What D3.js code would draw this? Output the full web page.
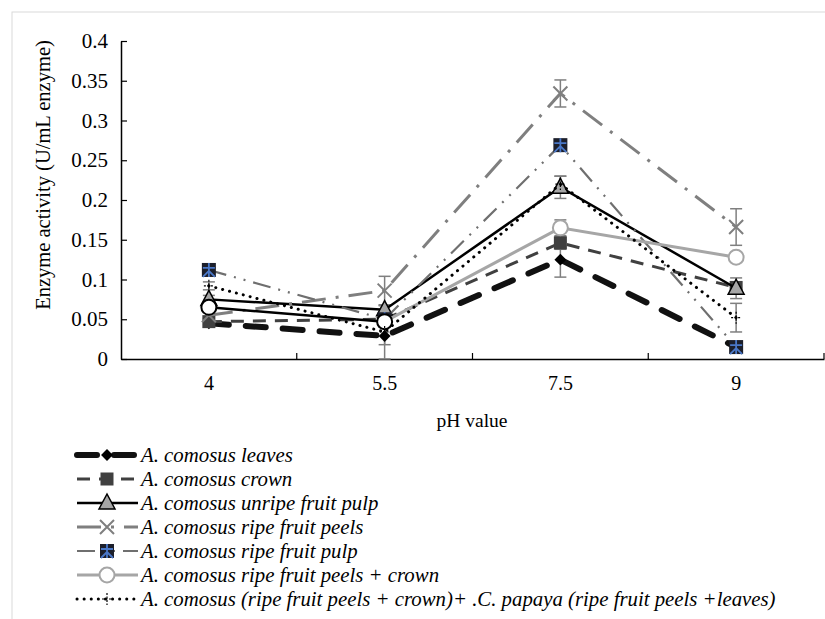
<!DOCTYPE html>
<html><head><meta charset="utf-8">
<script src="https://cdn.jsdelivr.net/npm/d3@7"></script>
<style>body{margin:0;background:#fff}svg{display:block}</style>
</head><body>
<script>
const categories = ["4", "5.5", "7.5", "9"];
const yTicks = [0, 0.05, 0.1, 0.15, 0.2, 0.25, 0.3, 0.35, 0.4];
const seriesNames = [
  "A. comosus leaves",
  "A. comosus crown",
  "A. comosus unripe fruit pulp",
  "A. comosus ripe fruit peels",
  "A. comosus ripe fruit pulp",
  "A. comosus ripe fruit peels + crown",
  "A. comosus (ripe fruit peels + crown)+ .C. papaya (ripe fruit peels +leaves)"
];
const leaves      = [0.045, 0.029, 0.125, 0.015];
const crown       = [0.047, 0.050, 0.146, 0.090];
const unripePulp  = [0.075, 0.062, 0.216, 0.089];
const ripePeels   = [0.055, 0.086, 0.334, 0.166];
const ripePulp    = [0.112, 0.050, 0.269, 0.015];
const peelsCrown  = [0.065, 0.047, 0.165, 0.128];
const combined    = [0.092, 0.034, 0.220, 0.052];
const errLeaves     = [0.005, 0.011, 0.022, 0.005];
const errCrown      = [0.004, 0.005, 0.008, 0.006];
const errUnripe     = [0.005, 0.005, 0.014, 0.013];
const errRipePeels  = [0.004, 0.018, 0.017, 0.023];
const errRipePulp   = [0.003, 0.005, 0.005, 0.006];
const errPeelsCrown = [0.003, 0.003, 0.010, 0.004];
const errCombined   = [0.005, 0.034, 0.010, 0.018];

const values = [leaves, crown, unripePulp, ripePeels, ripePulp, peelsCrown, combined];
const errors = [errLeaves, errCrown, errUnripe, errRipePeels, errRipePulp, errPeelsCrown, errCombined];

const styles = [
  {stroke:"#111", w:6, dash:"20,17", cap:"round", marker:"diamond"},
  {stroke:"#404040", w:3, dash:"13,9", cap:"butt", marker:"square"},
  {stroke:"#000", w:2.5, dash:null, cap:"butt", marker:"triangle"},
  {stroke:"#7f7f7f", w:3, dash:"24,10,3,10", cap:"butt", marker:"x"},
  {stroke:"#6f6f6f", w:2.2, dash:"18,8,2,8,2,8", cap:"butt", marker:"pulp"},
  {stroke:"#a6a6a6", w:3, dash:null, cap:"butt", marker:"circle"},
  {stroke:"#000", w:3, dash:"0.1,7", cap:"round", marker:"plus"}
];

const W = 825, H = 619;
const svg = d3.select("body").append("svg").attr("width", W).attr("height", H);
svg.append("rect").attr("x",12).attr("y",12).attr("width",W).attr("height",H)
  .attr("fill","#fff").attr("stroke","#d9d9d9").attr("stroke-width",1);

const x = d3.scaleBand().domain(categories).range([121, 824]).padding(0);
const y = d3.scaleLinear().domain([0, 0.4]).range([359, 41]);
const cx = c => x(c) + x.bandwidth()/2;
const font = "'Liberation Serif','Times New Roman',serif";

// Y axis
const yAxis = svg.append("g").attr("transform","translate(121,0)")
  .call(d3.axisLeft(y).tickValues(yTicks).tickSizeInner(-6).tickSizeOuter(0)
    .tickFormat(d => d3.format("")(+d.toFixed(2))).tickPadding(13));
yAxis.select(".domain").attr("stroke","#000").attr("stroke-width",1.5);
yAxis.selectAll(".tick line").attr("stroke","#000").attr("stroke-width",1.2);
yAxis.selectAll("text").attr("font-family",font).attr("font-size",21).attr("fill","#000");

// X axis
const xAxis = svg.append("g").attr("transform","translate(0,359)")
  .call(d3.axisBottom(x).tickSize(0).tickPadding(17));
xAxis.select(".domain").attr("stroke","#000").attr("stroke-width",1.5);
xAxis.selectAll("text").attr("font-family",font).attr("font-size",20).attr("fill","#000");
const bounds = categories.map(c => x(c)).concat([x.range()[1]]);
svg.append("g").selectAll("line").data(bounds.slice(1)).join("line")
  .attr("x1",d=>d).attr("x2",d=>d).attr("y1",359).attr("y2",353)
  .attr("stroke","#000").attr("stroke-width",1.2);

svg.append("text").attr("x",472).attr("y",427).attr("text-anchor","middle")
  .attr("font-family",font).attr("font-size",19.5).text("pH value");
svg.append("text").attr("transform","translate(50,175) rotate(-90)").attr("text-anchor","middle")
  .attr("font-family",font).attr("font-size",20.5).text("Enzyme activity (U/mL enzyme)");

// error bars
const eg = svg.append("g");
values.forEach((vals, si) => {
  vals.forEach((v, i) => {
    const e = errors[si][i];
    const px = cx(categories[i]);
    const y1 = y(Math.max(0, v - e)), y2 = y(v + e);
    eg.append("line").attr("x1",px).attr("x2",px).attr("y1",y1).attr("y2",y2)
      .attr("stroke","#7f7f7f").attr("stroke-width",1.5);
    [y1, y2].forEach(yy => eg.append("line").attr("x1",px-6).attr("x2",px+6)
      .attr("y1",yy).attr("y2",yy).attr("stroke","#7f7f7f").attr("stroke-width",1.5));
  });
});

function drawMarker(g, type, px, py, st, alt) {
  if (type === "diamond") {
    g.append("path").attr("d", d3.symbol(d3.symbolDiamond2, 90)()).attr("transform",`translate(${px},${py})`)
      .attr("fill","#000");
  } else if (type === "square") {
    g.append("rect").attr("x",px-6.5).attr("y",py-6.5).attr("width",13).attr("height",13).attr("fill","#404040");
  } else if (type === "triangle") {
    g.append("path").attr("d",`M${px},${py-9}L${px+8},${py+6}L${px-8},${py+6}Z`)
      .attr("fill","#a6a6a6").attr("stroke","#000").attr("stroke-width",1.5);
  } else if (type === "x") {
    g.append("path").attr("d",`M${px-7},${py-7}L${px+7},${py+7}M${px+7},${py-7}L${px-7},${py+7}`)
      .attr("stroke","#7f7f7f").attr("stroke-width",2).attr("fill","none");
  } else if (type === "pulp") {
    g.append("rect").attr("x",px-7).attr("y",py-7).attr("width",14).attr("height",14).attr("fill","#1c1f2b");
    g.append("path").attr("d",`M${px},${py-7}L${px},${py+7}M${px-6},${py-2}L${px+6},${py-2}M${px},${py+1}L${px-6},${py+7}M${px},${py+1}L${px+6},${py+7}`)
      .attr("stroke","#4a78c8").attr("stroke-width",1.8).attr("fill","none");
  } else if (type === "circle") {
    g.append("circle").attr("cx",px).attr("cy",py).attr("r",7.5).attr("fill","#fff")
      .attr("stroke", alt ? "#000" : "#a6a6a6").attr("stroke-width",2);
  } else if (type === "plus") {
    g.append("path").attr("d",`M${px-5},${py}L${px+5},${py}M${px},${py-6}L${px},${py+6}`)
      .attr("stroke","#000").attr("stroke-width",1.2).attr("stroke-dasharray","2,1.5").attr("fill","none");
  }
}

// lines
const line = d3.line().x((d,i)=>cx(categories[i])).y(d=>y(d));
values.forEach((vals, si) => {
  const st = styles[si];
  const g = svg.append("g");
  if (si === 5) {
    g.append("path").attr("d", line(vals.slice(0,2))).attr("fill","none")
      .attr("stroke","#000").attr("stroke-width",2.5);
    g.append("path").attr("d", d3.line().x((d,i)=>cx(categories[i+1])).y(d=>y(d))(vals.slice(1)))
      .attr("fill","none").attr("stroke",st.stroke).attr("stroke-width",st.w);
  } else {
    g.append("path").attr("d", line(vals)).attr("fill","none")
      .attr("stroke",st.stroke).attr("stroke-width",st.w)
      .attr("stroke-dasharray",st.dash).attr("stroke-linecap",st.cap);
  }
  vals.forEach((v,i) => drawMarker(g, st.marker, cx(categories[i]), y(v), st, si === 5 && i < 2));
});

// legend
const lg = svg.append("g");
seriesNames.forEach((name, si) => {
  const st = styles[si];
  const yy = 455 + si * 24;
  lg.append("line").attr("x1",77).attr("x2",138).attr("y1",yy).attr("y2",yy)
    .attr("stroke",st.stroke).attr("stroke-width",st.w)
    .attr("stroke-dasharray",st.dash).attr("stroke-linecap",st.cap);
  drawMarker(lg, st.marker, 107, yy, st, false);
  lg.append("text").attr("x",141).attr("y",yy+7).attr("font-family",font)
    .attr("font-size",20.8).attr("font-style","italic").text(name);
});
</script>
</body></html>
